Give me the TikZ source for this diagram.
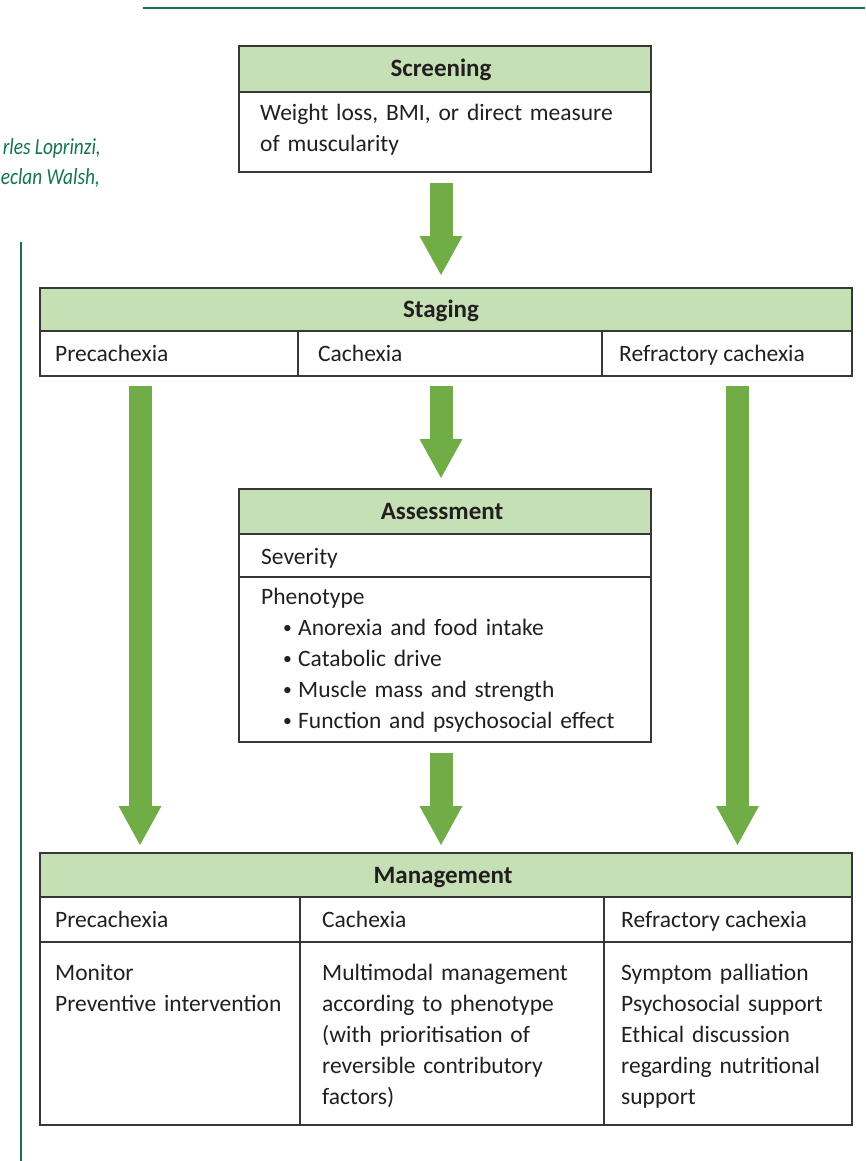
\documentclass[tikz,border=0pt]{standalone}
\usepackage{fontspec}
\setmainfont{Carlito}
\usetikzlibrary{arrows.meta,calc}
\definecolor{hdrgreen}{RGB}{197,224,180}
\definecolor{arrowgreen}{RGB}{112,173,71}
\definecolor{rulegreen}{RGB}{30,110,70}
\definecolor{authgreen}{RGB}{20,115,80}
\definecolor{ink}{RGB}{35,31,32}
\definecolor{frame}{RGB}{55,55,55}
% small bullet for the phenotype list
\newcommand{\phbullet}{\hspace*{22pt}\makebox[15pt][l]{\raisebox{0.15ex}{\scalebox{0.75}{\textbullet}}}}

\begin{document}
\begin{tikzpicture}[x=1pt,y=-1pt,
  box/.style={draw=frame, line width=1.5pt, anchor=north west, inner sep=0pt, outer sep=0pt},
  hdr/.style={box, fill=hdrgreen},
  hdrtext/.style={anchor=base, inner sep=0pt, text=ink,
                  font=\fontsize{25}{31}\selectfont\bfseries},
  para/.style={anchor=base west, inner sep=0pt, text=ink, align=left,
               font=\fontsize{23.5}{31}\selectfont},
  flow/.style={draw=arrowgreen, line width=23pt,
               -{Triangle[width=43pt,length=39pt,line width=0pt]}},
  auth/.style={anchor=base east, inner sep=0pt, text=authgreen,
               font=\fontsize{23}{30}\selectfont\itshape}]

\useasboundingbox (0,0) rectangle (865,1161);

% page rules and running author line
\draw[rulegreen, line width=1.5pt] (143,8) -- (865,8);
\draw[rulegreen, line width=1.5pt] (21,242) -- (21,1161);
\node[auth] (au1) at (101,155) {\scalebox{0.84}[1]{rles Loprinzi,}};
\node[auth] (au2) at (100,185) {\scalebox{0.84}[1]{eclan Walsh,}};

% Screening
\node[hdr, minimum width=412pt, minimum height=46pt] (scrH) at (239,46) {};
\node[hdrtext] (scrHt) at ([xshift=-4pt,yshift=-8pt]scrH.center) {Screening};
\node[box, minimum width=412pt, minimum height=80pt] (scrB) at (239,92) {};
\node[para, text width=385pt] (scrT) at ($(scrB.north west)+(21,29)$)
  {Weight loss, BMI, or direct measure\\of muscularity};

% Staging
\node[hdr, minimum width=812pt, minimum height=43pt] (stgH) at (40,288) {};
\node[hdrtext] (stgHt) at ([xshift=-5pt,yshift=-8pt]stgH.center) {Staging};
\node[box, minimum width=258pt, minimum height=45pt] (stg1) at (40,331) {};
\node[box, minimum width=304pt, minimum height=45pt] (stg2) at (298,331) {};
\node[box, minimum width=250pt, minimum height=45pt] (stg3) at (602,331) {};
\node[para] (stg1t) at ($(stg1.north west)+(15,30)$) {Precachexia};
\node[para] (stg2t) at ($(stg2.north west)+(20,30)$) {Cachexia};
\node[para] (stg3t) at ($(stg3.north west)+(17,30)$) {Refractory cachexia};

% Assessment
\node[hdr, minimum width=412pt, minimum height=45pt] (asH) at (239,489) {};
\node[hdrtext] (asHt) at ([xshift=-3pt,yshift=-8pt]asH.center) {Assessment};
\node[box, minimum width=412pt, minimum height=43pt] (asSev) at (239,534) {};
\node[box, minimum width=412pt, minimum height=165pt] (asPh) at (239,577) {};
\node[para] (asSevT) at ($(asSev.north west)+(22,30)$) {Severity};
\node[para, text width=385pt] (asPhT) at ($(asPh.north west)+(22,27)$)
  {Phenotype\\
   \phbullet Anorexia and food intake\\
   \phbullet Catabolic drive\\
   \phbullet Muscle mass and strength\\
   \phbullet Function and psychosocial effect};

% Management
\node[hdr, minimum width=812pt, minimum height=44pt] (mgH) at (40,853) {};
\node[hdrtext] (mgHt) at ([xshift=-3pt,yshift=-8pt]mgH.center) {Management};
\node[box, minimum width=260pt, minimum height=45pt] (mg1) at (40,897) {};
\node[box, minimum width=304pt, minimum height=45pt] (mg2) at (300,897) {};
\node[box, minimum width=248pt, minimum height=45pt] (mg3) at (604,897) {};
\node[box, minimum width=260pt, minimum height=183pt] (mb1) at (40,942) {};
\node[box, minimum width=304pt, minimum height=183pt] (mb2) at (300,942) {};
\node[box, minimum width=248pt, minimum height=183pt] (mb3) at (604,942) {};
\node[para] (mg1t) at ($(mg1.north west)+(15,30)$) {Precachexia};
\node[para] (mg2t) at ($(mg2.north west)+(22,30)$) {Cachexia};
\node[para] (mg3t) at ($(mg3.north west)+(17,30)$) {Refractory cachexia};
\node[para, text width=240pt] (mb1t) at ($(mb1.north west)+(15,38)$)
  {Monitor\\Preventive intervention};
\node[para, text width=280pt] (mb2t) at ($(mb2.north west)+(22,38)$)
  {Multimodal management\\according to phenotype\\(with prioritisation of\\reversible contributory\\factors)};
\node[para, text width=230pt] (mb3t) at ($(mb3.north west)+(17,38)$)
  {Symptom palliation\\Psychosocial support\\Ethical discussion\\regarding nutritional\\support};

% flow arrows
\coordinate (colL) at (140,0);
\coordinate (colM) at (441,0);
\coordinate (colR) at (737.5,0);
\draw[flow, shorten <=11pt, shorten >=13pt] (scrB.south -| colM) -- (stgH.north -| colM);
\draw[flow, shorten <=10pt, shorten >=8pt] (stg1.south -| colL) -- (mgH.north -| colL);
\draw[flow, shorten <=10pt, shorten >=11pt] (stg2.south -| colM) -- (asH.north -| colM);
\draw[flow, shorten <=11pt, shorten >=8pt] (asPh.south -| colM) -- (mgH.north -| colM);
\draw[flow, shorten <=10pt, shorten >=8pt] (stg3.south -| colR) -- (mgH.north -| colR);
\end{tikzpicture}
\end{document}
